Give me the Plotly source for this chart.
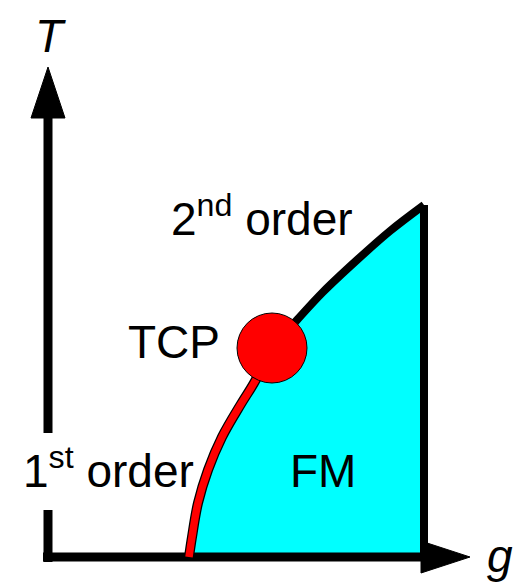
import plotly.graph_objects as go

# Phase boundary (g, T) in drawing units (g to the right, T downward-screen units)
first_order_g = [189, 192, 198, 208, 222, 241, 254, 272]
first_order_T = [557, 537, 503, 470, 437, 404, 383, 348]
second_order_g = [272, 297, 323, 357, 390, 424]
second_order_T = [348, 320, 292, 260, 231, 205]
edge_g = [424, 424]
edge_T = [205, 557]
tcp_g = [272]
tcp_T = [348]

# Axes
t_axis_g = [48, 48]
t_axis_lower_T = [562, 510]
t_axis_upper_T = [433, 112]
g_axis_g = [43, 424]
g_axis_T = [557, 557]
t_head_g = [31, 65, 48, 31]
t_head_T = [118, 118, 67, 118]
g_head_g = [421, 421, 470, 421]
g_head_T = [541, 573, 557, 541]

FONT = "Liberation Sans, Arial, sans-serif"

# page has an 8px body margin; compensate so drawing units match window pixels
OFF = 8
W, H = 523, 583

fig = go.Figure()

# FM region fill
fill_g = first_order_g + second_order_g[1:] + [edge_g[1]] + [first_order_g[0]]
fill_T = first_order_T + second_order_T[1:] + [edge_T[1]] + [first_order_T[0]]
fig.add_trace(go.Scatter(x=fill_g, y=fill_T, fill="toself", fillcolor="#00FFFF",
                         mode="none", hoverinfo="skip"))

# axes
for xs, ys in [(t_axis_g, t_axis_lower_T), (t_axis_g, t_axis_upper_T), (g_axis_g, g_axis_T)]:
    fig.add_trace(go.Scatter(x=xs, y=ys, mode="lines",
                             line=dict(color="black", width=9), hoverinfo="skip"))
for xs, ys in [(t_head_g, t_head_T), (g_head_g, g_head_T)]:
    fig.add_trace(go.Scatter(x=xs, y=ys, fill="toself", fillcolor="black",
                             mode="lines", line=dict(color="black", width=1), hoverinfo="skip"))

# second-order line and right edge
fig.add_trace(go.Scatter(x=second_order_g, y=second_order_T, mode="lines",
                         line=dict(color="black", width=8, shape="spline"),
                         hoverinfo="skip"))
fig.add_trace(go.Scatter(x=edge_g, y=edge_T, mode="lines",
                         line=dict(color="black", width=8), hoverinfo="skip"))

# first-order line (red with black outline)
fig.add_trace(go.Scatter(x=first_order_g, y=first_order_T, mode="lines",
                         line=dict(color="black", width=10, shape="spline"),
                         hoverinfo="skip"))
fig.add_trace(go.Scatter(x=first_order_g, y=first_order_T, mode="lines",
                         line=dict(color="#FF0000", width=7.5, shape="spline"),
                         hoverinfo="skip"))

# TCP
fig.add_trace(go.Scatter(x=tcp_g, y=tcp_T, mode="markers",
                         marker=dict(size=70, color="#FF0000", line=dict(color="black", width=1)),
                         hoverinfo="skip"))

labels = [
    ("<i>T</i>", 50, OFF, "top"),
    ("<i>g</i>", 500, 556, "middle"),
    ("2<sup>nd</sup> order", 262, 216, "middle"),
    ("TCP", 174, 342, "middle"),
    ("1<sup>st</sup> order", 108, 468, "middle"),
    ("FM", 323, 471, "middle"),
]
for txt, x, y, ya in labels:
    fig.add_annotation(x=x, y=y, text=txt, showarrow=False,
                       font=dict(family=FONT, size=46, color="black"),
                       xanchor="center", yanchor=ya)

fig.update_layout(
    width=W - OFF, height=H - OFF,
    margin=dict(l=0, r=0, t=0, b=0, pad=0),
    paper_bgcolor="white", plot_bgcolor="white",
    showlegend=False,
    xaxis=dict(range=[OFF, W], visible=False, fixedrange=True),
    yaxis=dict(range=[H, OFF], visible=False, fixedrange=True),
)

fig.write_html("out.html", config={"displayModeBar": False})
